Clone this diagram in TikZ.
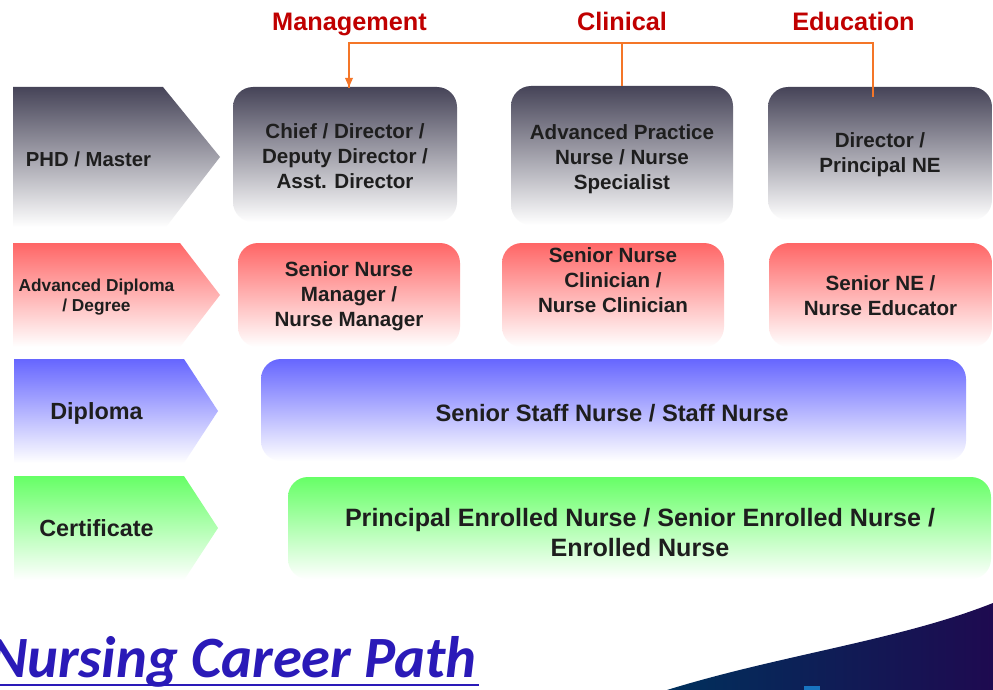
\documentclass[tikz,border=0pt]{standalone}
\usepackage{fontspec}
\setmainfont{Liberation Sans}
\newfontfamily\carlito{Carlito}
\usetikzlibrary{arrows.meta}
\definecolor{hdred}{RGB}{192,0,0}
\definecolor{conn}{RGB}{244,118,40}
\definecolor{gtop}{RGB}{70,68,88}
\definecolor{rtop}{RGB}{255,102,102}
\definecolor{btop}{RGB}{102,102,255}
\definecolor{ntop}{RGB}{102,255,102}
\definecolor{txt}{RGB}{30,30,30}
\definecolor{ttl}{RGB}{42,26,184}
\definecolor{navyA}{RGB}{0,48,92}
\definecolor{navyB}{RGB}{30,10,80}
\definecolor{smallblue}{RGB}{24,116,192}
\tikzset{
  hdr/.style={font=\bfseries\fontsize{25.3}{29}\selectfont, text=hdred, anchor=base, inner sep=0pt},
  boxg/.style={rounded corners=20pt, minimum width=#1, inner sep=0pt},
  shgray/.style={top color=gtop, bottom color=white},
  shred/.style={top color=rtop, bottom color=white},
  shblue/.style={top color=btop, bottom color=white},
  shgreen/.style={top color=ntop, bottom color=white},
  btxt/.style={font=\bfseries\fontsize{20.6}{25}\selectfont, text=txt, align=center, inner sep=0pt},
  bigtxt/.style={font=\bfseries\fontsize{23.4}{27}\selectfont, text=txt, align=center, inner sep=0pt},
  ctxt/.style={font=\bfseries\fontsize{20.3}{25}\selectfont, text=txt, align=center, inner sep=0pt},
  conline/.style={draw=conn, line width=1.1pt},
}
\begin{document}
\begin{tikzpicture}[x=1pt,y=-1pt]
\useasboundingbox (0,0) rectangle (993,690);
\fill[white] (0,0) rectangle (993,690);

% header labels
\node[hdr] (mg) at (349.5,31) {Management};
\node[hdr] (cl) at (622,31) {Clinical};
\node[hdr] (ed) at (853.5,31) {Education};

% chevrons
\path[shgray] (13,87) -- (163,87) -- (220,157) -- (166,227) -- (13,227) -- cycle;
\path[shred] (13,243) -- (180,243) -- (220,295) -- (180,347) -- (13,347) -- cycle;
\path[shblue] (14,359) -- (184,359) -- (218,411) -- (184,463) -- (14,463) -- cycle;
\path[shgreen] (14,476) -- (184,476) -- (218,528) -- (184,580) -- (14,580) -- cycle;

\node[ctxt] (c1) at (88.5,159) {PHD / Master};
\node[ctxt, font=\bfseries\fontsize{17.3}{20.5}\selectfont] (c2) at (96.5,297) {Advanced Diploma\\/ Degree};
\node[bigtxt] (c3) at (96.5,413) {Diploma};
\node[bigtxt] (c4) at (96.5,528) {Certificate};

% row 1 boxes
\node[boxg=224pt, minimum height=135pt, shgray] (b11) at (345,154.5) {};
\node[boxg=222pt, minimum height=139pt, shgray] (b12) at (622,155.5) {};
\node[boxg=224pt, minimum height=133pt, shgray] (b13) at (880,153.5) {};
\node[btxt] (t11) at (345,156) {Chief / Director /\\Deputy Director /\\Asst. Director};
\node[btxt] (t12) at (622,159) {Advanced Practice\\Nurse / Nurse\\Specialist};
\node[btxt] (t13) at (880,155) {Director /\\Principal NE};

% row 2 boxes
\node[boxg=222pt, minimum height=104pt, shred] (b21) at (349,295) {};
\node[boxg=222pt, minimum height=104pt, shred] (b22) at (613,295) {};
\node[boxg=223pt, minimum height=104pt, shred] (b23) at (880.5,295) {};
\node[btxt] (t21) at (349,296.5) {Senior Nurse\\Manager /\\Nurse Manager};
\node[btxt] (t22) at (613,280.5) {Senior Nurse\\Clinician /\\Nurse Clinician};
\node[btxt] (t23) at (880.5,296) {Senior NE /\\Nurse Educator};

% row 3, 4
\node[boxg=705pt, minimum height=102pt, shblue] (b3) at (613.5,410) {};
\node[bigtxt, font=\bfseries\fontsize{23.7}{27}\selectfont] (t3) at (612,413) {Senior Staff Nurse / Staff Nurse};
\node[boxg=703pt, minimum height=102pt, shgreen] (b4) at (639.5,528) {};
\node[bigtxt, font=\bfseries\fontsize{25.1}{30}\selectfont] (t4) at (640,533) {Principal Enrolled Nurse / Senior Enrolled Nurse /\\Enrolled Nurse};

% connectors
\coordinate (hl) at (349,43);
\coordinate (hr) at (873,43);
\coordinate (edin) at (873,97);
\draw[conline] (edin) -- (hr) -- (hl) -- ([yshift=-1pt]b11.north -| hl);
\fill[conn] (349,87) -- (345,78) -- (353,78) -- cycle;
\draw[conline] (b12.north) -- (b12.north |- hl);

% bottom decorations
\shade[left color=navyA, right color=navyB] (667,690) .. controls (780,655) and (900,640) .. (993,603) -- (993,690) -- cycle;
\fill[smallblue] (804,686) rectangle (820,690);

\node[font=\carlito\bfseries\itshape\fontsize{58.5}{62}\selectfont, text=ttl, anchor=base east, inner sep=0pt] (title) at (477,677) {Nursing Career Path};
\draw[ttl, line width=2.5pt] (0,685) -- (479,685);
\end{tikzpicture}
\end{document}
